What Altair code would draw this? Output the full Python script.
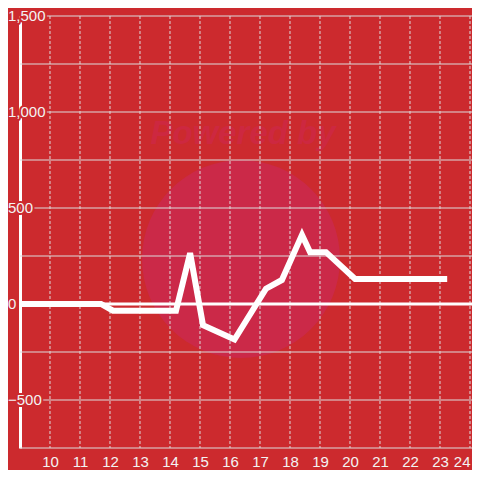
import altair as alt
import pandas as pd

# hours (x) and values (y) of the series
hours = [9, 11.7, 12.1, 14.2, 14.67, 15.1, 16.15, 17.2, 17.73, 18.4, 18.67, 19.2, 20.17, 23.24]
values = [0, 0, -35, -35, 265, -110, -185, 80, 125, 360, 270, 270, 130, 130]

y_label_vals = [-500, 0, 500, 1000, 1500]
y_grid_vals = [-750, -500, -250, 0, 250, 500, 750, 1000, 1250, 1500]
x_tick_vals = list(range(10, 25))

BG = "#cc2a2e"
GRID = "#dcdcdc"
TXT = "#f3f3f3"
FONT = "Liberation Sans"

line_df = pd.DataFrame({"t": hours, "v": values})
ylab_df = pd.DataFrame({"v": y_label_vals})
ygrid_df = pd.DataFrame({"g": y_grid_vals})
xgrid_df = pd.DataFrame({"h": x_tick_vals})
zero_df = pd.DataFrame({"z": [0]})
one_df = pd.DataFrame({"a": [0]})

x_scale = alt.Scale(domain=[9, 24.0667], nice=False, zero=False)
y_scale = alt.Scale(domain=[-750, 1500], nice=False, zero=False)

yax = alt.Axis(values=y_grid_vals, labels=False, ticks=False, grid=False, title=None,
               domainColor="white", domainWidth=3)
xax = alt.Axis(values=x_tick_vals, grid=False, domain=False, ticks=False, title=None,
               labelFontSize=15, labelColor=TXT, labelFont=FONT, labelPadding=6,
               labelFlush=4)

circle = alt.Chart(one_df).mark_circle(color="#cb2948", opacity=1, size=39200).encode(
    x=alt.value(221), y=alt.value(243))

powered = alt.Chart(one_df).mark_text(
    text="Powered by", font=FONT, fontSize=33, fontWeight="bold", fontStyle="italic",
    color="#cd2840", align="center", baseline="middle").encode(
    x=alt.value(223), y=alt.value(118))

hgrid = alt.Chart(ygrid_df).mark_rule(color=GRID, strokeWidth=1).encode(
    y=alt.Y("g:Q", scale=y_scale, axis=yax))

vgrid = alt.Chart(xgrid_df).mark_rule(color=GRID, strokeWidth=1, strokeDash=[3, 2]).encode(
    x=alt.X("h:Q", scale=x_scale, axis=xax))

zero = alt.Chart(zero_df).mark_rule(color="white", strokeWidth=3).encode(
    y=alt.Y("z:Q", scale=y_scale, axis=yax))

line = alt.Chart(line_df).mark_line(color="white", strokeWidth=6, strokeCap="butt",
                                    strokeJoin="miter").encode(
    x=alt.X("t:Q", scale=x_scale, axis=xax),
    y=alt.Y("v:Q", scale=y_scale, axis=yax))

mask = alt.Chart(ylab_df).mark_text(
    align="left", baseline="middle", font=FONT, fontSize=15,
    fill=BG, stroke=BG, strokeWidth=4, strokeJoin="round").encode(
    x=alt.value(-12),
    y=alt.Y("v:Q", scale=y_scale, axis=yax),
    text=alt.Text("v:Q", format=","))

labels = alt.Chart(ylab_df).mark_text(
    align="left", baseline="middle", font=FONT, fontSize=15, color=TXT).encode(
    x=alt.value(-12),
    y=alt.Y("v:Q", scale=y_scale, axis=yax),
    text=alt.Text("v:Q", format=","))

chart = alt.layer(circle, powered, hgrid, vgrid, zero, line, mask, labels).properties(
    width=452, height=432,
    autosize="none",
    padding={"left": 12, "top": 8, "right": 0, "bottom": 22},
    background=BG,
).configure_view(stroke=None)

chart.save("out.html", embed_options={"renderer": "svg", "actions": False})
